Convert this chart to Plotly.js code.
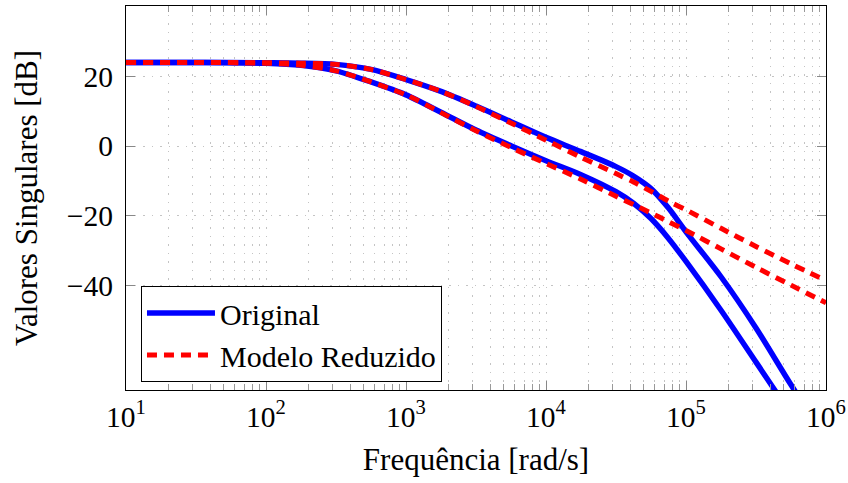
<!DOCTYPE html>
<html><head><meta charset="utf-8">
<script src="https://cdn.plot.ly/plotly-3.0.1.min.js"></script>
<style>html,body{margin:0;padding:0;background:#fff}</style>
</head><body><div id="plot" style="width:848px;height:483px"></div>
<script>
// Frequencies [rad/s]
const freq = [10, 31.6, 100, 178, 316, 562, 1000, 1778, 3162, 5623, 10000, 17783, 31623, 42170, 56234, 74989, 100000, 177828, 316228, 562341, 1000000];
// Original model singular values [dB]
const orig1 = [24.0, 24.0, 23.9, 23.8, 23.45, 22.0, 19.1, 15.7, 11.5, 7.0, 2.5, -1.6, -5.9, -8.6, -12.2, -17.8, -24.6, -37.5, -52.2, -68.5, -84];
const orig2 = [24.0, 24.0, 23.8, 23.2, 21.6, 18.4, 14.7, 9.7, 4.6, 0.1, -4.2, -8.2, -13.1, -16.4, -20.8, -26.5, -33.1, -47.1, -62.0, -77, -92];
// Reduced model singular values [dB]
const red1 = [24.0, 24.0, 23.9, 23.8, 23.45, 22.0, 19.1, 15.7, 11.4, 6.6, 1.7, -3.2, -7.9, -10.3, -13.0, -15.8, -18.3, -23.6, -28.8, -33.8, -38.6];
const red2 = [24.0, 24.0, 23.8, 23.2, 21.6, 18.4, 14.7, 9.6, 4.4, -0.4, -5.0, -9.5, -14.4, -16.8, -19.2, -21.7, -24.2, -29.5, -34.8, -39.9, -45.0];
// Tick labels
const xTickVals = [10, 100, 1000, 10000, 100000, 1000000];
const xTickText = ['10<sup>1</sup>', '10<sup>2</sup>', '10<sup>3</sup>', '10<sup>4</sup>', '10<sup>5</sup>', '10<sup>6</sup>'];
const yTickVals = [-40, -20, 0, 20];
const yTickText = ['\u221240', '\u221220', '0', '20'];

const minorVals = [];
for (let d = 10; d < 1000000; d *= 10) { for (let m = 2; m <= 9; m++) minorVals.push(d * m); }

const fam = 'Liberation Serif, Times New Roman, Times, serif';
const blue = '#0000ff', red = '#ff0000';
const dashR = '10px,7px';

const traces = [
  {x: freq, y: orig1, mode: 'lines', name: 'Original', legendgroup: 'o', line: {color: blue, width: 5.5, shape: 'spline', smoothing: 0.8}},
  {x: freq, y: orig2, mode: 'lines', name: 'Original', legendgroup: 'o', showlegend: false, line: {color: blue, width: 5.5, shape: 'spline', smoothing: 0.8}},
  {x: freq, y: red1, mode: 'lines', name: 'Modelo Reduzido', legendgroup: 'r', line: {color: red, width: 5, dash: dashR, shape: 'spline', smoothing: 0.8}},
  {x: freq, y: red2, mode: 'lines', name: 'Modelo Reduzido', legendgroup: 'r', showlegend: false, line: {color: red, width: 5, dash: dashR, shape: 'spline', smoothing: 0.8}}
];

const gridDash = '1.5px,7px';
const layout = {
  width: 848, height: 483,
  margin: {l: 126, r: 22, t: 6, b: 93},
  paper_bgcolor: '#fff', plot_bgcolor: '#fff',
  font: {family: fam, size: 29, color: '#000'},
  showlegend: true,
  xaxis: {
    type: 'log', range: [1, 6],
    tickmode: 'array', tickvals: xTickVals, ticktext: xTickText,
    tickfont: {family: fam, size: 29.5},
    ticks: 'inside', ticklen: 9, tickwidth: 1, tickcolor: '#888',
    showline: true, linecolor: '#000', linewidth: 1.2, mirror: 'ticks',
    showgrid: true, gridcolor: '#c4c4c4', gridwidth: 1, griddash: gridDash,
    zeroline: false,
    ticklabelstandoff: 0,
    minor: {tickmode: 'array', tickvals: minorVals, ticks: 'inside', ticklen: 6, tickcolor: '#999', showgrid: true, gridcolor: '#c4c4c4', gridwidth: 1, griddash: gridDash},
    title: {text: 'Frequência [rad/s]', font: {family: fam, size: 31}, standoff: 16}
  },
  yaxis: {
    range: [-70, 40.2],
    tickmode: 'array', tickvals: yTickVals, ticktext: yTickText,
    tickfont: {family: fam, size: 29.5},
    ticks: 'inside', ticklen: 9, tickwidth: 1, tickcolor: '#888',
    showline: true, linecolor: '#000', linewidth: 1.2, mirror: 'ticks',
    showgrid: true, gridcolor: '#c4c4c4', gridwidth: 1, griddash: gridDash,
    zeroline: false,
    ticklabelstandoff: 6,
    title: {text: 'Valores Singulares [dB]', font: {family: fam, size: 31}, standoff: 20}
  },
  legend: {
    x: 0.0214, y: 0.0208, xanchor: 'left', yanchor: 'bottom',
    bgcolor: '#fff', bordercolor: '#000', borderwidth: 1,
    font: {family: fam, size: 30}, tracegroupgap: 0, itemwidth: 68
  }
};

Plotly.newPlot('plot', traces, layout, {displayModeBar: false, staticPlot: true});
</script>
</body></html>
